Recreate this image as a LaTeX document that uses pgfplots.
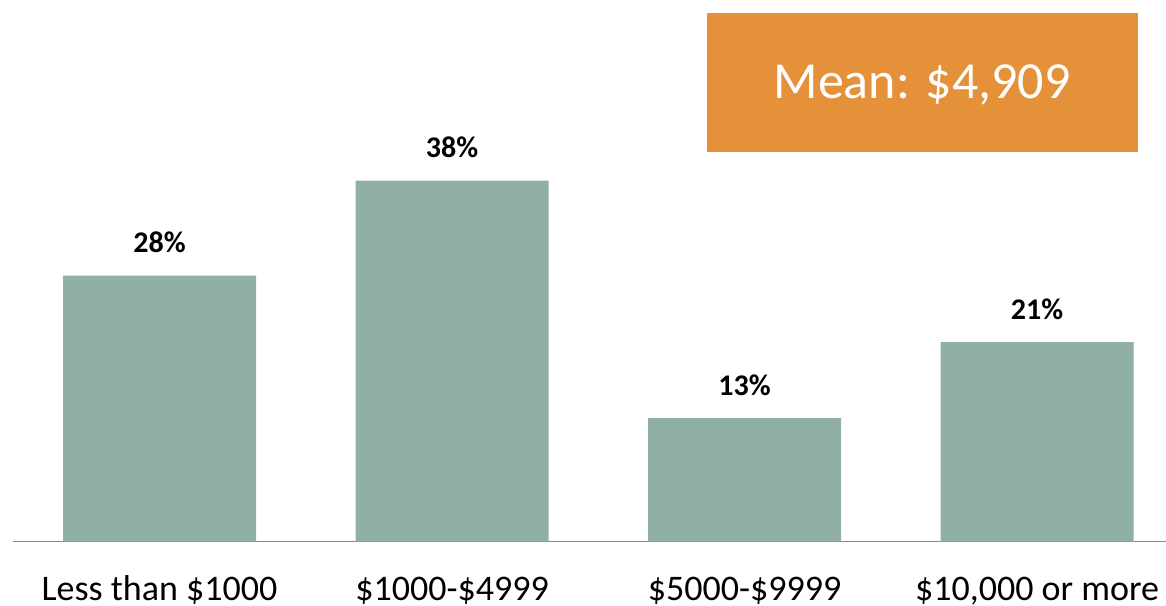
\documentclass[border=0pt]{standalone}
\usepackage{pgfplots}
\pgfplotsset{compat=1.18}
\usepackage{fontspec}
\setmainfont{Carlito}
\definecolor{barc}{RGB}{143,175,167}
\definecolor{boxc}{RGB}{228,145,58}
\definecolor{axc}{RGB}{137,137,137}
\begin{document}
\begin{tikzpicture}
\useasboundingbox (0,0) rectangle (1166pt,605pt);
\fill[boxc] (707pt,453pt) rectangle (1138pt,592pt);
\node[text=white, font=\fontsize{52}{60}\selectfont, anchor=center] at (922pt,520pt) {Mean: \$4,909};
\begin{axis}[
  at={(13pt,63.5pt)}, anchor=south west,
  scale only axis,
  width=1153pt, height=541pt,
  xmin=-0.5009, xmax=3.441,
  ymin=0, ymax=56.95,
  axis x line*=bottom,
  axis y line=none,
  x axis line style={-, draw=axc, line width=1.5pt},
  xtick=data,
  xticklabels={Less than \$1000, \$1000-\$4999, \$5000-\$9999, {\$10,000 or more}},
  xtick style={draw=none},
  xticklabel style={font=\fontsize{36}{42}\selectfont, anchor=base, yshift=-55pt},
  ybar, bar width=193pt,
  /pgf/number format/assume math mode=true,
  nodes near coords={\pgfmathprintnumber{\pgfplotspointmeta}\%},
  nodes near coords style={font=\bfseries\fontsize{30}{36}\selectfont, anchor=base, yshift=23pt, inner sep=0pt},
  clip=false,
]
\addplot[fill=barc, draw=none] coordinates {(0,28) (1,38) (2,13) (3,21)};
\end{axis}
\end{tikzpicture}
\end{document}
